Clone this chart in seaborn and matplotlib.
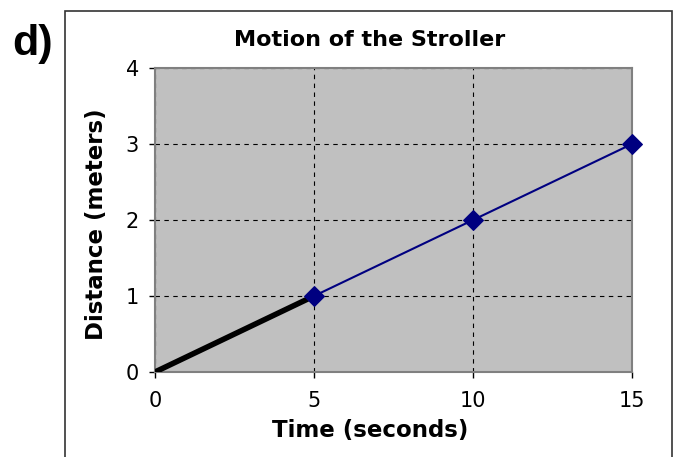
import matplotlib
matplotlib.use("Agg")
import matplotlib.pyplot as plt
import pandas as pd
import seaborn as sns
from matplotlib.patches import Rectangle

time_s = [5, 10, 15]
distance_m = [1, 2, 3]
start_time = [0, 5]
start_distance = [0, 1]
x_ticks = [0, 5, 10, 15]
y_ticks = [0, 1, 2, 3, 4]

sns.set_theme(style="white")
plt.rcParams["font.family"] = ["DejaVu Sans"]
plt.rcParams["text.color"] = "black"
plt.rcParams["axes.labelcolor"] = "black"

points = pd.DataFrame({"time": time_s, "distance": distance_m})
start = pd.DataFrame({"time": start_time, "distance": start_distance})

W, H = 676, 457
fig = plt.figure(figsize=(W / 100, H / 100), dpi=100)
ax = fig.add_axes([155 / W, 1 - 372 / H, (632 - 155) / W, (372 - 68) / H])

# outer frame around the chart (bottom edge runs off the image)
fig.patches.append(Rectangle((65 / W, -0.1), (672 - 65) / W, 1.1 - 11 / H,
                             transform=fig.transFigure, fill=False,
                             edgecolor="#333333", linewidth=1.2))

ax.set_facecolor("#C0C0C0")
for side in ax.spines.values():
    side.set_color("#808080")
    side.set_linewidth(1.5)

sns.lineplot(data=points, x="time", y="distance", ax=ax, color="#000080",
             marker="D", markersize=10.5, markeredgecolor="#000080", linewidth=1.5,
             zorder=4, clip_on=False)
sns.lineplot(data=start, x="time", y="distance", ax=ax, color="black",
             linewidth=4, zorder=3)

ax.set_xlim(0, 15)
ax.set_ylim(0, 4)
ax.set_xticks(x_ticks)
ax.set_yticks(y_ticks)
ax.grid(True, color="black", linestyle=(0, (4, 4)), linewidth=0.8)
ax.set_axisbelow(True)
ax.tick_params(axis="both", direction="out", length=4, width=1, color="black",
               labelsize=15, labelcolor="black", bottom=True, left=True)
ax.tick_params(axis="x", pad=10)
ax.tick_params(axis="y", pad=7.5)

bold = dict(family="DejaVu Sans", fontweight="bold")
ax.set_xlabel("Time (seconds)", fontsize=16.5, **bold)
ax.xaxis.set_label_coords(370 / W, 1 - 431 / H, transform=fig.transFigure)
ax.xaxis.label.set_va("center")
ax.set_ylabel("Distance (meters)", fontsize=16.5, **bold)
ax.yaxis.set_label_coords(97 / W, 1 - 224 / H, transform=fig.transFigure)
ax.yaxis.label.set_va("center")
fig.suptitle("Motion of the Stroller", x=370 / W, y=1 - 40 / H, va="center",
             fontsize=16, **bold)

fig.text(12 / W, 1 - 44 / H, "d)", fontsize=31, fontweight="bold",
         va="center", ha="left", family="Liberation Sans")

fig.savefig("out.png", dpi=100)
